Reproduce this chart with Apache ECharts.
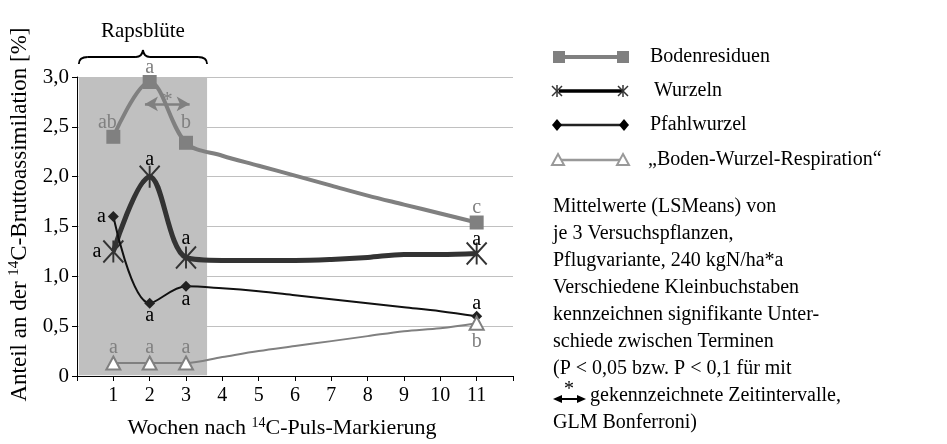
<!DOCTYPE html>
<html><head><meta charset="utf-8">
<script src="https://cdn.jsdelivr.net/npm/echarts@6/dist/echarts.min.js"></script>
<style>html,body{margin:0;padding:0;background:#fff}#c{width:947px;height:444px}</style>
</head><body><div id="c"></div><script>
// ---- data ----
const weeks = [1, 2, 3, 4, 5, 6, 7, 8, 9, 10, 11];
const boden   = [2.40, 2.95, 2.34, 2.21, 2.11, 2.01, 1.91, 1.81, 1.72, 1.63, 1.54];
const wurzeln = [1.25, 2.00, 1.19, 1.16, 1.16, 1.16, 1.17, 1.19, 1.22, 1.22, 1.23];
const pfahl   = [1.60, 0.73, 0.90, 0.88, 0.85, 0.81, 0.77, 0.73, 0.69, 0.65, 0.60];
const resp    = [0.13, 0.13, 0.13, 0.19, 0.25, 0.30, 0.35, 0.40, 0.45, 0.48, 0.53];
const measured = [true, true, true, false, false, false, false, false, false, false, true];
const bodenLetters   = ['ab', 'a', 'b', '', '', '', '', '', '', '', 'c'];
const wurzelnLetters = ['a', 'a', 'a', '', '', '', '', '', '', '', 'a'];
const pfahlLetters   = ['a', 'a', 'a', '', '', '', '', '', '', '', 'a'];
const respLetters    = ['a', 'a', 'a', '', '', '', '', '', '', '', 'b'];
const seriesNames = ['Bodenresiduen', 'Wurzeln', 'Pfahlwurzel', '\u201EBoden-Wurzel-Respiration\u201C'];
const bloomEnd = 3.58;          // end of Rapsblüte shading (weeks)
const sigInterval = [1.87, 3.1]; // arrow interval (weeks)
const sigLevel = 2.73;

// ---- styling ----
const FONT = '"Liberation Serif", "Times New Roman", serif';
const GRAY = '#808080';
const chart = echarts.init(document.getElementById('c'), null, {renderer: 'canvas'});

function build(values, letters, placement, color) {
  return values.map((v, i) => {
    const item = {value: [weeks[i], v]};
    if (!measured[i]) item.symbol = 'none';
    if (letters[i]) {
      const p = placement[i] || placement.default;
      item.label = Object.assign({show: true, formatter: letters[i], color: color,
        fontFamily: FONT, fontSize: 20}, p);
    }
    return item;
  });
}

const bodenPlace = {0: {position: 'top', distance: 0, offset: [-6, 3]}, 1: {position: 'top', distance: -3},
  2: {position: 'top', distance: 3}, 10: {position: 'top', distance: -2}, default: {position: 'top'}};
const wurzelnPlace = {0: {position: 'left', distance: 1}, 1: {position: 'top', distance: -5},
  2: {position: 'top', distance: -3}, 10: {position: 'top', distance: -8}, default: {position: 'top'}};
const pfahlPlace = {0: {position: 'left', distance: 2}, 1: {position: 'bottom', distance: -3},
  2: {position: 'bottom', distance: -2}, 10: {position: 'top', distance: -3}, default: {position: 'top'}};
const respPlace = {0: {position: 'top', distance: -2}, 1: {position: 'top', distance: -2},
  2: {position: 'top', distance: -2}, 10: {position: 'bottom', distance: 1}, default: {position: 'top'}};

const asterisk = 'path://M0,0L20,22M20,0L0,22M10,0L10,22';
const rich = {
  n: {fontFamily: FONT, fontSize: 22, color: '#000', lineHeight: 24},
  s: {fontFamily: FONT, fontSize: 14, color: '#000', verticalAlign: 'top', lineHeight: 24}
};
const richY = {
  n: {fontFamily: FONT, fontSize: 23, color: '#000', lineHeight: 25},
  s: {fontFamily: FONT, fontSize: 15, color: '#000', verticalAlign: 'top', lineHeight: 25}
};

const option = {
  animation: false,
  backgroundColor: '#fff',
  textStyle: {fontFamily: FONT},
  grid: {left: 77, right: 434, top: 77, bottom: 67, containLabel: false},
  xAxis: {
    type: 'value', min: 0, max: 12, interval: 1,
    name: '{n|Wochen nach }{s|14}{n|C-Puls-Markierung}',
    nameLocation: 'middle', nameGap: 40,
    nameTextStyle: {padding: [0, 26, 0, 0], rich: rich},
    axisLine: {lineStyle: {color: '#000', width: 1}},
    axisTick: {show: true, length: 5, lineStyle: {color: '#000'}},
    axisLabel: {color: '#000', fontFamily: FONT, fontSize: 20, margin: 10,
      formatter: v => (v >= 1 && v <= 11) ? String(v) : ''},
    splitLine: {show: false}
  },
  yAxis: {
    type: 'value', min: 0, max: 3, interval: 0.5,
    name: '{n|Anteil an der }{s|14}{n|C-Bruttoassimilation [%]}',
    nameLocation: 'middle', nameGap: 45, nameRotate: 90,
    nameTextStyle: {padding: [0, 0, 0, 24], rich: richY},
    axisLine: {show: true, lineStyle: {color: '#000', width: 1}},
    axisTick: {show: true, length: 5, lineStyle: {color: '#000'}},
    axisLabel: {color: '#000', fontFamily: FONT, fontSize: 21, margin: 8,
      formatter: v => v === 0 ? '0' : v.toFixed(1).replace('.', ',')},
    splitLine: {show: true, lineStyle: {color: '#c0c0c0', width: 1}}
  },
  series: [
    {
      type: 'line', name: 'bloom', data: [], z: 1, clip: false, silent: true,
      markArea: {silent: true, itemStyle: {color: '#c0c0c0'},
        data: [[{coord: [0.05, 3.03]}, {coord: [bloomEnd, 0.008]}]]},
      markLine: {silent: true, symbol: ['arrow', 'arrow'], symbolSize: [11, 13],
        lineStyle: {color: GRAY, width: 2.5, type: 'solid'},
        label: {show: true, position: 'middle', formatter: '*', color: GRAY, fontFamily: FONT, fontSize: 22, distance: -7},
        data: [[{coord: [sigInterval[0], sigLevel]}, {coord: [sigInterval[1], sigLevel]}]]}
    },
    {
      type: 'line', name: seriesNames[0], smooth: 0.35, z: 3,
      data: build(boden, bodenLetters, bodenPlace, GRAY),
      symbol: 'rect', symbolSize: 14, showAllSymbol: true,
      lineStyle: {color: GRAY, width: 4}, itemStyle: {color: GRAY}
    },
    {
      type: 'line', name: seriesNames[1], smooth: 0.35, z: 4,
      data: build(wurzeln, wurzelnLetters, wurzelnPlace, '#000'),
      symbol: asterisk, symbolSize: [20, 22], showAllSymbol: true,
      lineStyle: {color: '#333', width: 5},
      itemStyle: {color: '#333', borderColor: '#333', borderWidth: 2}
    },
    {
      type: 'line', name: seriesNames[2], smooth: 0.35, z: 5,
      data: build(pfahl, pfahlLetters, pfahlPlace, '#000'),
      symbol: 'diamond', symbolSize: 11, showAllSymbol: true,
      lineStyle: {color: '#111', width: 2}, itemStyle: {color: '#222'}
    },
    {
      type: 'line', name: seriesNames[3], smooth: 0.35, z: 5,
      data: build(resp, respLetters, respPlace, GRAY),
      symbol: 'triangle', symbolSize: [14, 13], showAllSymbol: true,
      lineStyle: {color: GRAY, width: 2},
      itemStyle: {color: '#fff', borderColor: GRAY, borderWidth: 2}
    }
  ]
};
chart.setOption(option);

// ---- annotations: brace, legend, notes ----
const g = [];
const x0 = chart.convertToPixel({gridIndex: 0}, [0.05, 0])[0];
const x1 = chart.convertToPixel({gridIndex: 0}, [bloomEnd, 0])[0];
const xm = (x0 + x1) / 2;
const bStroke = {fill: 'none', stroke: '#000', lineWidth: 1.8};
function bez(ax, ay, cx, cy, bx, by) {
  g.push({type: 'bezierCurve', shape: {x1: ax, y1: ay, x2: bx, y2: by, cpx1: cx, cpy1: cy}, style: bStroke});
}
function ln(ax, ay, bx, by, style) {
  g.push({type: 'line', shape: {x1: ax, y1: ay, x2: bx, y2: by}, style: style});
}
bez(x0, 64, x0, 57, x0 + 9, 57);
ln(x0 + 9, 57, xm - 7, 57, bStroke);
bez(xm - 7, 57, xm - 1, 57, xm, 50);
bez(xm, 50, xm + 1, 57, xm + 7, 57);
ln(xm + 7, 57, x1 - 9, 57, bStroke);
bez(x1 - 9, 57, x1, 57, x1, 64);
g.push({type: 'text', style: {text: 'Rapsblüte', x: xm, y: 31, align: 'center', verticalAlign: 'middle',
  font: '21px ' + FONT, fill: '#000'}});

// legend
const lx0 = 559, lx1 = 623, tx = 650;
const rows = [57, 91, 125, 160];
// Bodenresiduen
ln(lx0, rows[0], lx1, rows[0], {stroke: GRAY, lineWidth: 4});
[lx0, lx1].forEach(x => g.push({type: 'rect', shape: {x: x - 6, y: rows[0] - 6, width: 12, height: 12}, style: {fill: GRAY}}));
// Wurzeln
ln(lx0, rows[1], lx1, rows[1], {stroke: '#000', lineWidth: 3.5});
const aStyle = {stroke: '#333', lineWidth: 1.5};
[lx0 - 2, lx1].forEach(x => {
  const y = rows[1];
  ln(x - 5, y - 5, x + 5, y + 5, aStyle);
  ln(x + 5, y - 5, x - 5, y + 5, aStyle);
  ln(x, y - 6, x, y + 6, aStyle);
});
// Pfahlwurzel
ln(lx0, rows[2], lx1, rows[2], {stroke: '#222', lineWidth: 2.5});
[lx0 - 2, lx1 + 1].forEach(x => g.push({type: 'polygon', shape: {points: [[x, rows[2] - 6], [x + 5, rows[2]], [x, rows[2] + 6], [x - 5, rows[2]]]}, style: {fill: '#000'}}));
// Respiration
ln(lx0, rows[3], lx1, rows[3], {stroke: '#999', lineWidth: 2.5});
[lx0 - 1, lx1].forEach(x => g.push({type: 'polygon', shape: {points: [[x, rows[3] - 6], [x + 6, rows[3] + 5], [x - 6, rows[3] + 5]]}, style: {fill: '#fff', stroke: '#999', lineWidth: 2}}));
const legendX = [tx, tx + 4, tx, tx - 2];
seriesNames.forEach((n, i) => g.push({type: 'text', style: {text: n, x: legendX[i], y: rows[i], verticalAlign: 'middle',
  font: '20px ' + FONT, fill: '#000'}}));

// notes
const notes = ['Mittelwerte (LSMeans) von', 'je 3 Versuchspflanzen,', 'Pflugvariante, 240 kgN/ha*a',
  'Verschiedene Kleinbuchstaben', 'kennzeichnen signifikante Unter-', 'schiede zwischen Terminen',
  '(P < 0,05 bzw. P < 0,1 für mit', '', 'GLM Bonferroni)'];
notes.forEach((t, i) => {
  if (t) g.push({type: 'text', style: {text: t, x: 553, y: 207 + i * 27, verticalAlign: 'middle', font: '20px ' + FONT, fill: '#000'}});
});
const ay = 207 + 7 * 27 + 3;
ln(558, ay, 580, ay, {stroke: '#000', lineWidth: 2});
g.push({type: 'polygon', shape: {points: [[553, ay], [562, ay - 4], [562, ay + 4]]}, style: {fill: '#000'}});
g.push({type: 'polygon', shape: {points: [[586, ay], [577, ay - 4], [577, ay + 4]]}, style: {fill: '#000'}});
g.push({type: 'text', style: {text: '*', x: 569, y: ay - 9, align: 'center', verticalAlign: 'middle', font: '20px ' + FONT, fill: '#000'}});
g.push({type: 'text', style: {text: 'gekennzeichnete Zeitintervalle,', x: 590, y: 207 + 7 * 27, verticalAlign: 'middle', font: '20px ' + FONT, fill: '#000'}});

chart.setOption({graphic: {elements: g}});
</script></body></html>
